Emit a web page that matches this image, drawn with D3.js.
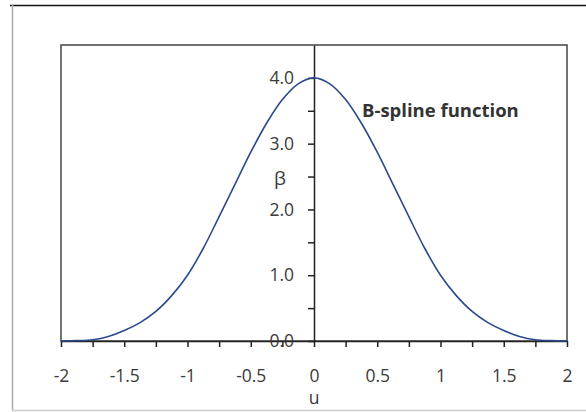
<!DOCTYPE html>
<html>
<head>
<meta charset="utf-8">
<script src="https://cdn.jsdelivr.net/npm/d3@7"></script>
<style>
    body { margin: 0; background: #fff; }
    svg { display: block; }
</style>
</head>
<body>
<div id="chart"></div>
<script>
// values
const uValues = [-2, -1.875, -1.75, -1.625, -1.5, -1.375, -1.25, -1.125, -1,
    -0.875, -0.75, -0.625, -0.5, -0.375, -0.25, -0.125, 0,
    0.125, 0.25, 0.375, 0.5, 0.625, 0.75, 0.875, 1,
    1.125, 1.25, 1.375, 1.5, 1.625, 1.75, 1.875, 2];
const betaValues = [0, 0.005, 0.02, 0.07, 0.16, 0.28, 0.45, 0.69, 1.0,
    1.41, 1.89, 2.38, 2.87, 3.31, 3.67, 3.91, 4.0,
    3.91, 3.67, 3.31, 2.87, 2.38, 1.89, 1.41, 1.0,
    0.69, 0.45, 0.28, 0.16, 0.07, 0.02, 0.005, 0];
const xTicks = [-2, -1.75, -1.5, -1.25, -1, -0.75, -0.5, -0.25, 0,
    0.25, 0.5, 0.75, 1, 1.25, 1.5, 1.75, 2];
const yTicks = [0, 0.5, 1, 1.5, 2, 2.5, 3, 3.5, 4];
const chartTitle = "B-spline function";

const width = 586;
const height = 412;
const margin = { top: 45, right: 19, bottom: 71, left: 61 };
const font = "'Open Sans', 'DejaVu Sans', sans-serif";
const textColor = "#3a3a3a";

const data = uValues.map((u, i) => ({ u: u, beta: betaValues[i] }));

const x = d3.scaleLinear()
    .domain([-2, 2])
    .range([margin.left, width - margin.right]);

const y = d3.scaleLinear()
    .domain([0, 4.5])
    .range([height - margin.bottom, margin.top]);

const svg = d3.select("#chart")
    .append("svg")
    .attr("width", width)
    .attr("height", height);

// outer frame of the picture
svg.append("line")
    .attr("x1", 10).attr("x2", width)
    .attr("y1", 5.5).attr("y2", 5.5)
    .attr("stroke", "#111").attr("stroke-width", 1.5);
svg.append("line")
    .attr("x1", 12.5).attr("x2", 12.5)
    .attr("y1", 5).attr("y2", 410)
    .attr("stroke", "#aaa").attr("stroke-width", 1.5);
svg.append("line")
    .attr("x1", 12).attr("x2", width)
    .attr("y1", 410.5).attr("y2", 410.5)
    .attr("stroke", "#ccc").attr("stroke-width", 1.5);

// plot area border
svg.append("rect")
    .attr("x", x(-2))
    .attr("y", y(4.5))
    .attr("width", x(2) - x(-2))
    .attr("height", y(0) - y(4.5))
    .attr("fill", "none")
    .attr("stroke", "#444")
    .attr("stroke-width", 1.5);

const xAxis = d3.axisBottom(x)
    .tickValues(xTicks)
    .tickSize(6)
    .tickSizeOuter(0)
    .tickPadding(23)
    .tickFormat(d => (d * 2) % 1 === 0 ? String(d) : "");

const yAxis = d3.axisLeft(y)
    .tickValues(yTicks)
    .tickSize(6)
    .tickSizeOuter(0)
    .tickPadding(14)
    .tickFormat(d => d % 1 === 0 ? d3.format(".1f")(d) : "");

svg.append("g")
    .attr("class", "xAxis")
    .attr("transform", "translate(0," + y(0) + ")")
    .call(xAxis);

svg.append("g")
    .attr("class", "yAxis")
    .attr("transform", "translate(" + x(0) + ",0)")
    .call(yAxis);

svg.selectAll(".xAxis path, .yAxis path, .xAxis line, .yAxis line")
    .attr("stroke", "#222")
    .attr("stroke-width", 1.5);

svg.selectAll(".xAxis text, .yAxis text")
    .attr("font-family", font)
    .attr("font-size", 17.5)
    .attr("fill", textColor);

// the curve
const line = d3.line()
    .x(d => x(d.u))
    .y(d => y(d.beta))
    .curve(d3.curveCatmullRom);

svg.append("path")
    .datum(data)
    .attr("d", line)
    .attr("fill", "none")
    .attr("stroke", "#2b4a8c")
    .attr("stroke-width", 1.6);

// labels
svg.append("text")
    .text("β")
    .attr("x", 280)
    .attr("y", 185)
    .attr("text-anchor", "middle")
    .attr("font-family", font)
    .attr("font-size", 19)
    .attr("fill", textColor);

svg.append("text")
    .text("u")
    .attr("x", x(0))
    .attr("y", 404)
    .attr("text-anchor", "middle")
    .attr("font-family", font)
    .attr("font-size", 17.5)
    .attr("fill", textColor);

svg.append("text")
    .text(chartTitle)
    .attr("x", 362)
    .attr("y", 117)
    .attr("font-family", font)
    .attr("font-size", 18.5)
    .attr("font-weight", "bold")
    .attr("fill", "#333");
</script>
</body>
</html>
